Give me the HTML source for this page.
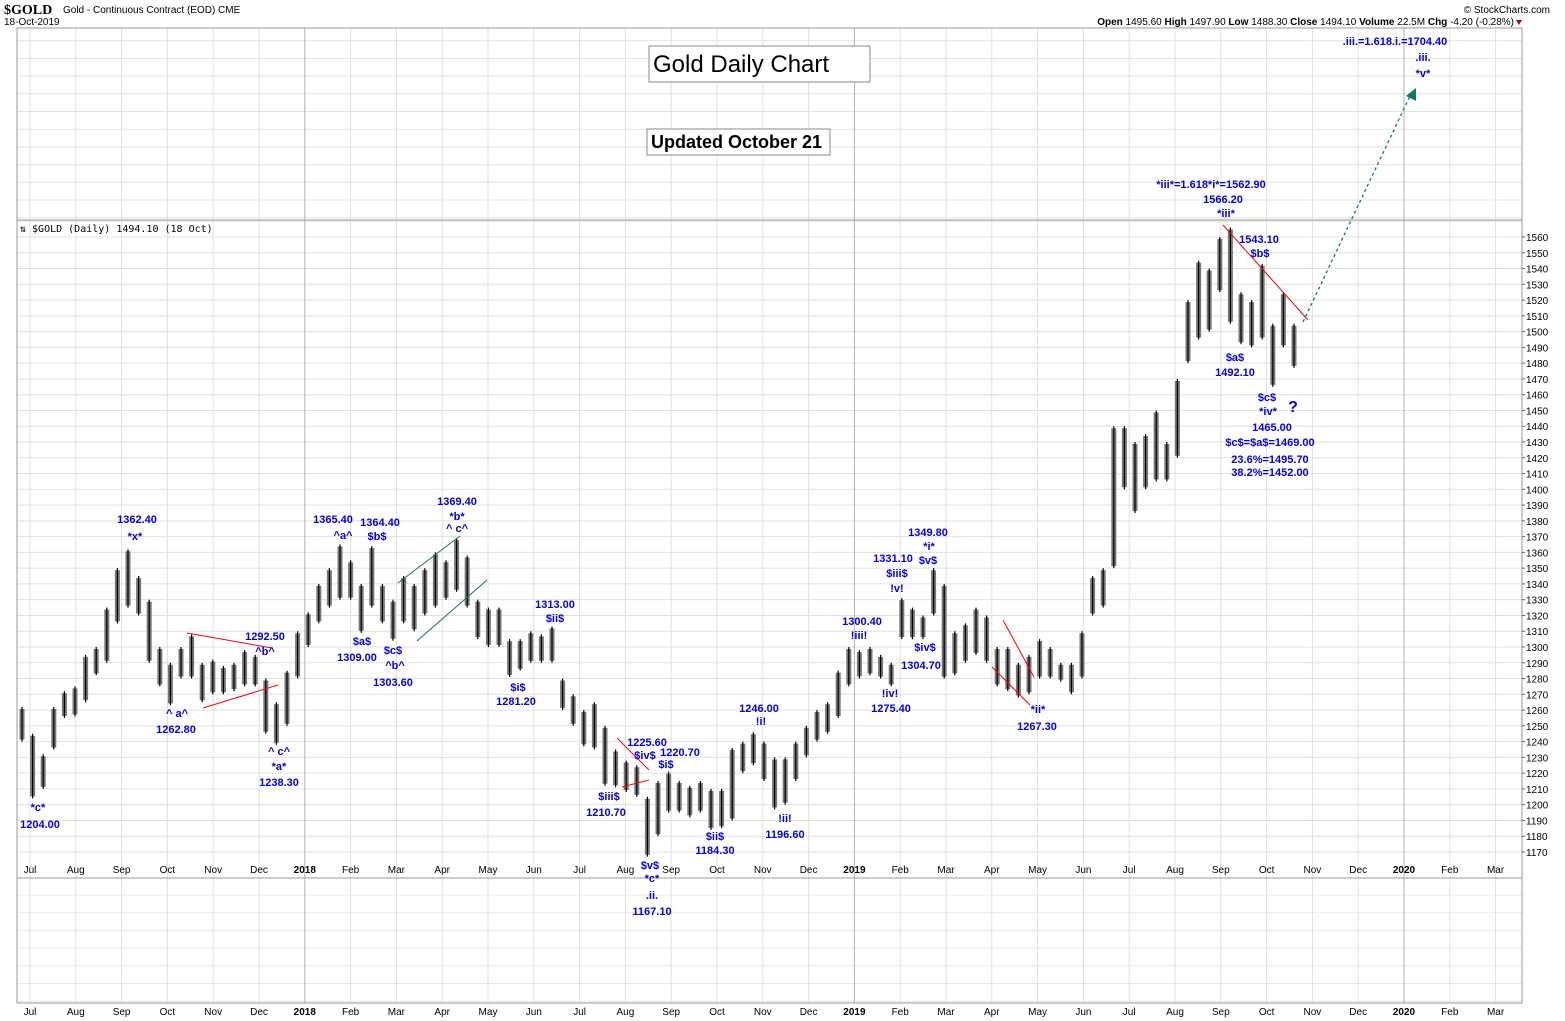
<!DOCTYPE html>
<html><head><meta charset="utf-8"><style>
body{margin:0;background:#fff;}
svg{display:block;font-family:"Liberation Sans",sans-serif;}
.ann{fill:#0000ee;font-weight:bold;font-size:11px;text-anchor:middle;}
.ax{font-size:10px;fill:#000;}
</style></head><body>
<svg id="chart" width="1565" height="1021" viewBox="0 0 1565 1021">
<g id="grid"></g>
<g id="frames"></g>
<g id="bars"></g>
<g id="lines"></g>
<g id="labels"></g>
<text x="4" y="14" font-size="14" font-weight="bold" font-family="Liberation Serif">$GOLD</text>
<text x="63" y="13" font-size="10">Gold - Continuous Contract (EOD) CME</text>
<text x="4" y="25" font-size="10">18-Oct-2019</text>
<text x="1550" y="13" font-size="10" text-anchor="end">© StockCharts.com</text>
<text x="1514" y="25" font-size="10" text-anchor="end"><tspan font-weight="bold">Open</tspan> 1495.60 <tspan font-weight="bold">High</tspan> 1497.90 <tspan font-weight="bold">Low</tspan> 1488.30 <tspan font-weight="bold">Close</tspan> 1494.10 <tspan font-weight="bold">Volume</tspan> 22.5M <tspan font-weight="bold">Chg</tspan> -4.20 (-0.28%)</text>
<polygon points="1516,20 1522,20 1519,25" fill="#c00"/>
<text x="20" y="232" font-size="10" font-family="DejaVu Sans Mono, Liberation Mono, monospace">⇅ $GOLD (Daily) 1494.10 (18 Oct)</text>
<rect x="649" y="46" width="221" height="36" fill="#fff" stroke="#888"/>
<text x="653" y="72" font-size="24">Gold Daily Chart</text>
<rect x="647" y="129" width="183" height="26" fill="#fff" stroke="#888"/>
<text x="651" y="148" font-size="18" font-weight="bold">Updated October 21</text>
</svg>
<script>
const weekHigh=[1262,1245,1232,1262,1272,1275,1295,1300,1325,1350,1362,1345,1330,1300,1290,1300,1308,1290,1292,1288,1290,1298,1295,1280,1265,1285,1310,1322,1340,1350,1365,1355,1340,1364,1340,1330,1345,1340,1350,1360,1355,1369,1358,1330,1325,1325,1305,1305,1310,1308,1313,1280,1270,1260,1265,1250,1235,1228,1225,1205,1215,1221,1215,1212,1215,1210,1210,1236,1240,1246,1240,1230,1230,1240,1250,1260,1265,1285,1300,1298,1300,1295,1290,1331,1325,1320,1350,1340,1310,1315,1325,1320,1300,1300,1290,1295,1305,1300,1290,1290,1310,1345,1350,1440,1440,1430,1435,1450,1430,1470,1520,1545,1540,1560,1566,1525,1520,1543,1505,1525,1505];
const weekLow=[1240,1204,1210,1235,1255,1256,1265,1282,1290,1315,1325,1320,1290,1275,1263,1280,1280,1265,1270,1270,1272,1275,1275,1245,1238,1250,1280,1300,1315,1325,1330,1330,1309,1325,1315,1304,1315,1310,1320,1325,1330,1335,1325,1305,1300,1300,1281,1285,1290,1290,1290,1260,1250,1237,1235,1212,1211,1208,1205,1167,1180,1195,1195,1192,1195,1184,1185,1190,1220,1225,1215,1197,1200,1215,1230,1240,1245,1255,1275,1280,1282,1280,1275,1305,1305,1305,1320,1280,1282,1290,1295,1290,1275,1272,1268,1270,1280,1280,1278,1270,1280,1320,1325,1350,1400,1385,1400,1405,1405,1420,1480,1495,1500,1525,1505,1492,1490,1495,1465,1490,1477];
const priceTicks=[1560,1550,1540,1530,1520,1510,1500,1490,1480,1470,1460,1450,1440,1430,1420,1410,1400,1390,1380,1370,1360,1350,1340,1330,1320,1310,1300,1290,1280,1270,1260,1250,1240,1230,1220,1210,1200,1190,1180,1170];
const monthLabels=["Jul","Aug","Sep","Oct","Nov","Dec","2018","Feb","Mar","Apr","May","Jun","Jul","Aug","Sep","Oct","Nov","Dec","2019","Feb","Mar","Apr","May","Jun","Jul","Aug","Sep","Oct","Nov","Dec","2020","Feb","Mar"];
const monthIdx=[0,1,2,3,4,5,6,7,8,9,10,11,12,13,14,15,16,17,18,19,20,21,22,23,24,25,26,27,28,29,30,31,32];

const NS="http://www.w3.org/2000/svg";
function yP(p){return 237+(1560-p)*1.5769;}
function xW(i){return 22+i*10.6;}
function xM(m){return 30+m*45.8;}
function mk(tag,attrs,parent){const e=document.createElementNS(NS,tag);for(const k in attrs)e.setAttribute(k,attrs[k]);parent.appendChild(e);return e;}
const grid=document.getElementById('grid'),frames=document.getElementById('frames'),bars=document.getElementById('bars'),lines=document.getElementById('lines'),labels=document.getElementById('labels');

for(let y=40.7;y<220;y+=17.7){const l=mk('line',{x1:17,x2:1522,y1:y,y2:y,stroke:'#e2e2e2'},grid);}
for(let p=1570;p>=1165;p-=10){const y=yP(p);if(y<221||y>877)continue;const l=mk('line',{x1:17,x2:1522,y1:y,y2:y,stroke:'#e0e0e0'},grid);}
for(let y=895;y<1003;y+=17.7){const l=mk('line',{x1:17,x2:1522,y1:y,y2:y,stroke:'#e8e8e8'},grid);}
monthIdx.forEach((m,k)=>{const x=xM(m);const yr=/^\d/.test(monthLabels[k]);
 const l=mk('line',{x1:x,x2:x,y1:28,y2:1003,stroke:yr?'#b0b0b0':'#e0e0e0'},grid);
 [873,1015].forEach(yy=>{const t=mk('text',{x:x,y:yy,'text-anchor':'middle',class:'ax','font-weight':yr?'bold':'normal'},labels);t.textContent=monthLabels[k];});
});
[[17,28,1505,192],[17,220,1505,658],[17,878,1505,125]].forEach(r=>{const f=mk('rect',{x:r[0],y:r[1],width:r[2],height:r[3],fill:'none',stroke:'#999'},frames);});
priceTicks.forEach(p=>{const y=yP(p);const t=mk('text',{x:1526,y:y+4,class:'ax'},labels);t.textContent=p;
 const tk=mk('line',{x1:1522,x2:1525,y1:y,y2:y,stroke:'#666'},labels);});
weekHigh.forEach((h,i)=>{const x=xW(i),lo=weekLow[i];
 const r=mk('rect',{x:x-2.5,y:yP(h)+2,width:5,height:Math.max(1,yP(lo)-yP(h)-4),fill:'#777'},bars);
 const v=mk('line',{x1:x,x2:x,y1:yP(h),y2:yP(lo),stroke:'#000','stroke-width':1.2},bars);});
const tl=[[187,633,272,648,'red'],[203,708,278,685,'red'],[398,583,460,536,'#176'],[417,641,487,580,'#176'],[617,738,649,770,'red'],[622,787,649,780,'red'],[1003,620,1034,677,'red'],[992,667,1030,705,'red'],[1223,225,1308,320,'red']];
tl.forEach(a=>{const l=mk('line',{x1:a[0],y1:a[1],x2:a[2],y2:a[3],stroke:a[4],'stroke-width':1},lines);});
const ar=mk('line',{x1:1303,y1:322,x2:1410,y2:96,stroke:'#176','stroke-width':1.3,'stroke-dasharray':'3,3'},lines);
const ah=mk('polygon',{points:'1416,88 1406,96 1416,101',fill:'#176'},lines);
const ann=[["*c*",38,811],["1204.00",40,828],["1362.40",137,523],["*x*",135,540],["^ a^",177,717],["1262.80",176,733],["1292.50",265,640],["^b^",265,655],["^ c^",279,755],["*a*",279,770],["1238.30",279,786],["1365.40",333,523],["^a^",343,539],["1364.40",380,526],["$b$",377,540],["$a$",362,645],["1309.00",357,661],["$c$",393,654],["^b^",395,669],["1303.60",393,686],["1369.40",457,505],["*b*",457,520],["^ c^",457,532],["1313.00",555,608],["$ii$",555,622],["$i$",518,691],["1281.20",516,705],["1225.60",647,746],["$iv$",645,759],["1220.70",680,756],["$i$",666,768],["$iii$",609,800],["1210.70",606,816],["$v$",650,869],["*c*",652,882],[".ii.",652,899],["1167.10",652,915],["$ii$",715,840],["1184.30",715,854],["1246.00",759,712],["!i!",761,725],["!ii!",785,822],["1196.60",785,838],["1300.40",862,625],["!iii!",859,639],["!iv!",890,697],["1275.40",891,712],["1331.10",893,562],["$iii$",897,577],["!v!",897,592],["1349.80",928,536],["*i*",929,550],["$v$",928,564],["$iv$",925,651],["1304.70",921,669],["*ii*",1038,713],["1267.30",1037,730],["*iii*=1.618*i*=1562.90",1211,188],["1566.20",1223,203],["*iii*",1226,217],["1543.10",1259,243],["$b$",1260,257],["$a$",1235,361],["1492.10",1235,376],["$c$",1267,401],["*iv*",1268,415],["1465.00",1272,431],["$c$=$a$=1469.00",1270,446],["23.6%=1495.70",1270,463],["38.2%=1452.00",1270,476],[".iii.=1.618.i.=1704.40",1395,45],[".iii.",1423,61],["*v*",1423,77]];
ann.forEach(a=>{const t=mk('text',{x:a[1],y:a[2],class:'ann'},labels);t.textContent=a[0];});
const q=mk('text',{x:1293,y:412,class:'ann',style:'font-size:16px'},labels);q.textContent='?';
</script>
</body></html>
